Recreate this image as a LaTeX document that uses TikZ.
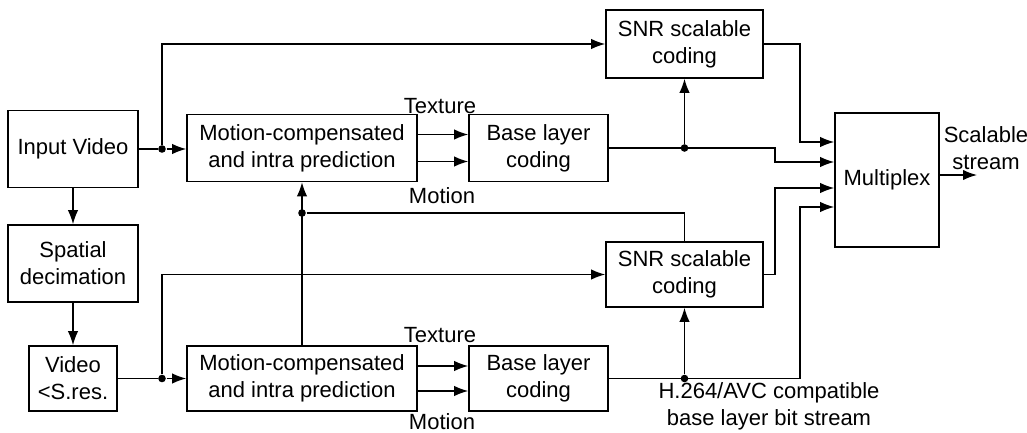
\documentclass[tikz,border=0pt]{standalone}
\usepackage{fontspec}
\setmainfont{Liberation Sans}
\usetikzlibrary{arrows.meta}
\begin{document}
\begin{tikzpicture}[x=0.5pt, y=-0.5pt, line width=.7pt, font=\fontsize{11}{13.5}\selectfont,
    blk/.style={draw, line width=.8pt, align=center, inner sep=0pt},
    dot/.style={circle, fill=black, inner sep=0pt, minimum size=3.8pt},
    lbl/.style={align=center, inner sep=0pt},
    >={Latex[length=7pt, width=5.2pt]}]

\useasboundingbox (0,0) rectangle (1027,433);

\node[blk, minimum width=65pt, minimum height=38.5pt] (inp) at (73,149) {Input Video};
\node[blk, minimum width=65pt, minimum height=38.5pt] (dec) at (73,263.5) {Spatial\\decimation};
\node[blk, minimum width=44pt, minimum height=32.5pt] (low) at (73,378.5) {Video\\<S.res.};

\node[blk, minimum width=115pt, minimum height=33.5pt] (mcA) at (302,148) {Motion-compensated\\and intra prediction};
\node[blk, minimum width=69.5pt, minimum height=33.5pt] (baseA) at (538.5,148) {Base layer\\coding};
\node[blk, minimum width=78.5pt, minimum height=34pt] (snrA) at (684.5,44) {SNR scalable\\coding};

\node[blk, minimum width=115pt, minimum height=32.5pt] (mcB) at (302,378.5) {Motion-compensated\\and intra prediction};
\node[blk, minimum width=69.5pt, minimum height=32.5pt] (baseB) at (538.5,378.5) {Base layer\\coding};
\node[blk, minimum width=78.5pt, minimum height=32.5pt] (snrB) at (684.5,274.5) {SNR scalable\\coding};

\node[blk, minimum width=52pt, minimum height=67pt] (mux) at (887,180) {Multiplex};

\node[lbl] (texA) at (440,106) {Texture};
\node[lbl] (motA) at (442,196) {Motion};
\node[lbl] (texB) at (440,335) {Texture};
\node[lbl] (motB) at (442,422) {Motion};
\node[lbl] (scal) at (986,148) {Scalable\\stream};
\node[lbl] (avc) at (769,406) {H.264/AVC compatible\\base layer bit stream};

\node[dot] (jA) at (162,149) {};
\node[dot] (jB) at (162,378.5) {};
\node[dot] (jM) at (302,213) {};
\node[dot] (kA) at (baseA.east -| snrA.south) {};
\node[dot] (kB) at (baseB.east -| snrB.south) {};
\coordinate (out) at (977,175);

\draw[->] (inp) -- (dec);
\draw[->] (dec) -- (low);

\draw (inp.east) -- (jA);
\draw[->] (jA) -- (jA -| mcA.west);
\draw[->] (jA) |- (snrA.west);
\draw[->] ([yshift=6.75pt]mcA.east) -- ([yshift=6.75pt]baseA.west);
\draw[->] ([yshift=-6.75pt]mcA.east) -- ([yshift=-6.75pt]baseA.west);
\draw[->] (kA) -- (snrA.south);

\draw (low.east) -- (jB);
\draw[->] (jB) -- (mcB.west);
\draw[->] (jB) |- (snrB.west);
\draw[->] ([yshift=6.25pt]mcB.east) -- ([yshift=6.25pt]baseB.west);
\draw[->] ([yshift=-6.25pt]mcB.east) -- ([yshift=-6.25pt]baseB.west);
\draw[->] (kB) -- (snrB.south);

\draw[->] (mcB.north) -- (mcA.south);
\draw (jM) -| (snrB.north);

\draw[->] (snrA.east) -- (800,44) |- ([yshift=19pt]mux.west);
\draw[->] (baseA.east) -- (775,148) |- ([yshift=9pt]mux.west);
\draw[->] (snrB.east) -- (775,274.5) |- ([yshift=-4pt]mux.west);
\draw[->] (baseB.east) -- (800,378.5) |- ([yshift=-13.5pt]mux.west);
\draw[->] (mux.east |- out) -- (out);
\end{tikzpicture}
\end{document}
